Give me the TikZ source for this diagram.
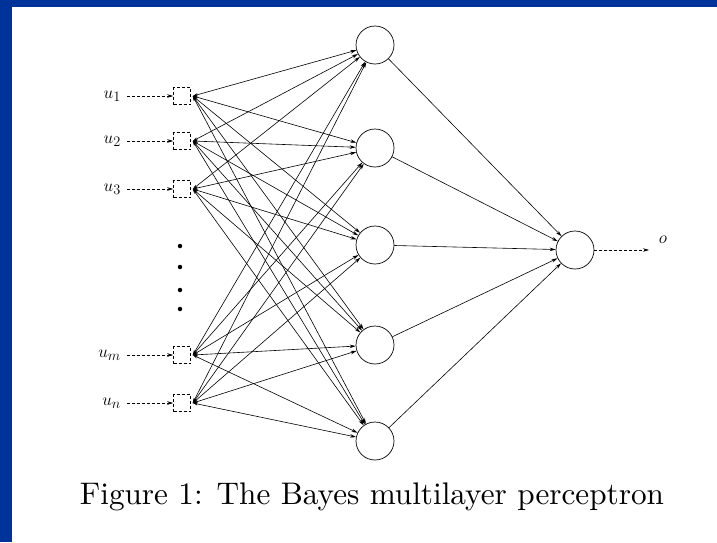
\documentclass[tikz,border=0pt]{standalone}
\usetikzlibrary{arrows.meta}
\definecolor{bborder}{RGB}{0,51,153}
\begin{document}
\begin{tikzpicture}[x=1pt,y=-1pt,
  conn/.style={line width=0.6pt,-{Stealth[length=6pt,width=3.5pt]}},
  conn2/.style={line width=0.6pt,{Stealth[length=5pt,width=3pt]}-{Stealth[length=6pt,width=3.5pt]}},
  inbox/.style={draw,densely dashed,line width=0.6pt,minimum width=17pt,minimum height=17pt,inner sep=0pt},
  neuron/.style={draw,circle,line width=0.7pt,minimum size=38pt,inner sep=0pt},
  lbl/.style={font=\fontsize{19}{22}\selectfont,inner sep=0pt},
  dotn/.style={circle,fill,inner sep=0pt,minimum size=4.5pt}]
\fill[bborder] (0,0) rectangle (717,542);
\fill[white] (12,7) rectangle (717,542);
\useasboundingbox (0,0) rectangle (717,542);
% inputs
\node[lbl,anchor=east] (l1) at (121,96) {$u_1$};
\node[lbl,anchor=east] (l2) at (121,141) {$u_2$};
\node[lbl,anchor=east] (l3) at (121,189) {$u_3$};
\node[lbl,anchor=east] (l4) at (121,355) {$u_m$};
\node[lbl,anchor=east] (l5) at (121,403) {$u_n$};
\node[inbox] (b1) at (182,96) {};
\node[inbox] (b2) at (182,141) {};
\node[inbox] (b3) at (182,189) {};
\node[inbox] (b4) at (182,355) {};
\node[inbox] (b5) at (182,403) {};
\foreach \i in {1,...,5}{\draw[conn,densely dashed] ([xshift=6pt]l\i.east) -- (b\i.west);}
% dots
\node[dotn] (d1) at (180,246) {};
\node[dotn] (d2) at (180,267) {};
\node[dotn] (d3) at (180,290) {};
\node[dotn] (d4) at (180,309) {};
% hidden
\node[neuron] (h1) at (375,45) {};
\node[neuron] (h2) at (375,148) {};
\node[neuron] (h3) at (375,245) {};
\node[neuron] (h4) at (375,345) {};
\node[neuron] (h5) at (375,441) {};
\foreach \i in {1,...,5}{\foreach \j in {1,...,5}{\draw[conn2] ([xshift=2pt]b\i.east) -- (h\j);}}
% output
\node[neuron] (o) at (575,250) {};
\foreach \j in {1,...,5}{\draw[conn] (h\j) -- (o);}
\coordinate (oend) at (649,250);
\draw[conn,densely dashed] (o) -- (oend);
\node[lbl] (ol) at (663,240) {$o$};
% caption
\node (cap) at (372,497) {\resizebox{584pt}{!}{Figure 1: The Bayes multilayer perceptron}};
\end{tikzpicture}
\end{document}
